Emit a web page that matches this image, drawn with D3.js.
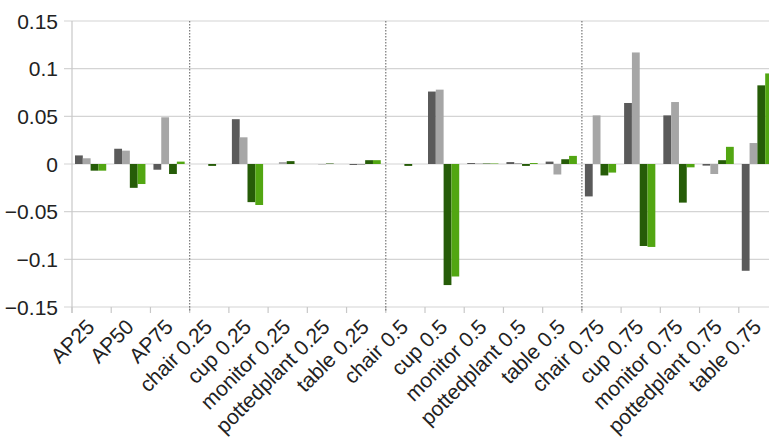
<!DOCTYPE html>
<html>
<head>
<meta charset="utf-8">
<script src="https://cdn.jsdelivr.net/npm/d3@7"></script>
<style>
  body { margin: 0; background: #fff; }
  svg { display: block; font-family: "Liberation Sans", Arial, sans-serif; }
</style>
</head>
<body>
<svg id="chart" width="769" height="444"></svg>
<script>
// categories along x
const categories = ["AP25", "AP50", "AP75",
  "chair 0.25", "cup 0.25", "monitor 0.25", "pottedplant 0.25", "table 0.25",
  "chair 0.5", "cup 0.5", "monitor 0.5", "pottedplant 0.5", "table 0.5",
  "chair 0.75", "cup 0.75", "monitor 0.75", "pottedplant 0.75", "table 0.75"]

// four series
const darkGray   = [0.009, 0.016, -0.006, 0, 0.047, 0, 0, -0.001, 0, 0.076, 0.001, 0.002, 0.0025, -0.034, 0.064, 0.051, -0.0017, -0.112]
const lightGray  = [0.006, 0.014, 0.049, 0, 0.028, 0.002, -0.0005, -0.001, 0, 0.078, 0.0005, 0.001, -0.011, 0.051, 0.117, 0.065, -0.0105, 0.022]
const darkGreen  = [-0.007, -0.025, -0.0105, -0.002, -0.040, 0.003, 0.0005, 0.004, -0.002, -0.127, 0.0005, -0.002, 0.005, -0.012, -0.086, -0.0405, 0.004, 0.0825]
const lightGreen = [-0.007, -0.021, 0.0025, 0, -0.043, 0, 0, 0.004, 0, -0.118, 0.0005, 0.001, 0.0085, -0.009, -0.087, -0.0035, 0.018, 0.095]

const seriesNames = ["darkGray", "lightGray", "darkGreen", "lightGreen"]
const seriesValues = [darkGray, lightGray, darkGreen, lightGreen]
const colors = ["#5a5a5a", "#a6a6a6", "#265c08", "#52a612"]

const yTicks = [-0.15, -0.1, -0.05, 0, 0.05, 0.1, 0.15]
const separatorsAfter = ["AP75", "table 0.25", "table 0.5"]

const margin = {top: 21, left: 72, bottom: 137}
const height = 444
const plotRight = 778  // the right edge runs past the picture

const x = d3.scaleBand()
  .domain(categories)
  .range([margin.left, plotRight])

const x1 = d3.scaleBand()
  .domain(seriesNames)
  .range([3, x.bandwidth() - 5])

const y = d3.scaleLinear()
  .domain([-0.15, 0.15])
  .range([height - margin.bottom, margin.top])

const svg = d3.select("#chart")

// horizontal grid
svg.append("g")
  .selectAll("line")
  .data(yTicks)
  .join("line")
  .attr("x1", margin.left - 8)
  .attr("x2", plotRight)
  .attr("y1", d => y(d))
  .attr("y2", d => y(d))
  .attr("stroke", "#d4d4d4")
  .attr("stroke-width", 1.2)

// y labels
svg.append("g")
  .selectAll("text")
  .data(yTicks)
  .join("text")
  .attr("x", margin.left - 14)
  .attr("y", d => y(d))
  .attr("dy", "0.36em")
  .attr("text-anchor", "end")
  .attr("font-size", 21)
  .attr("fill", "#222")
  .text(d => d3.format("")(d))

// left axis line
svg.append("line")
  .attr("x1", margin.left).attr("x2", margin.left)
  .attr("y1", y(0.15)).attr("y2", y(-0.15) + 6)
  .attr("stroke", "#c8c8c8")
  .attr("stroke-width", 1.2)

// bottom ticks between bands
const xAxis = d3.axisBottom(x).tickSize(6).tickFormat("")
const gx = svg.append("g")
  .attr("transform", `translate(0,${y(-0.15)})`)
  .call(xAxis)
gx.select(".domain").remove()
gx.selectAll(".tick line")
  .attr("transform", `translate(${-x.bandwidth() / 2},0)`)
  .attr("stroke", "#c8c8c8")
  .attr("stroke-width", 1.2)

// x labels
svg.append("g")
  .selectAll("text")
  .data(categories)
  .join("text")
  .attr("transform", d => `translate(${x(d) + x.bandwidth() / 2 - 7},${y(-0.15) + 10}) rotate(-45)`)
  .attr("text-anchor", "end")
  .attr("dy", "0.75em")
  .attr("font-size", 21)
  .attr("fill", "#222")
  .text(d => d)

// dotted separators
svg.append("g")
  .selectAll("line")
  .data(separatorsAfter)
  .join("line")
  .attr("x1", d => x(d) + x.bandwidth())
  .attr("x2", d => x(d) + x.bandwidth())
  .attr("y1", y(0.15))
  .attr("y2", y(-0.15) + 5)
  .attr("stroke", "#777")
  .attr("stroke-width", 1.2)
  .attr("stroke-dasharray", "1.5,1.5")

// bars
const groups = svg.append("g")
  .selectAll("g")
  .data(categories)
  .join("g")
  .attr("transform", d => `translate(${x(d)},0)`)

groups.selectAll("rect")
  .data((d, i) => seriesNames.map((s, j) => ({series: s, value: seriesValues[j][i], color: colors[j]})))
  .join("rect")
  .attr("x", d => x1(d.series))
  .attr("width", x1.bandwidth())
  .attr("y", d => y(Math.max(0, d.value)))
  .attr("height", d => Math.abs(y(d.value) - y(0)))
  .attr("fill", d => d.color)
</script>
</body>
</html>
